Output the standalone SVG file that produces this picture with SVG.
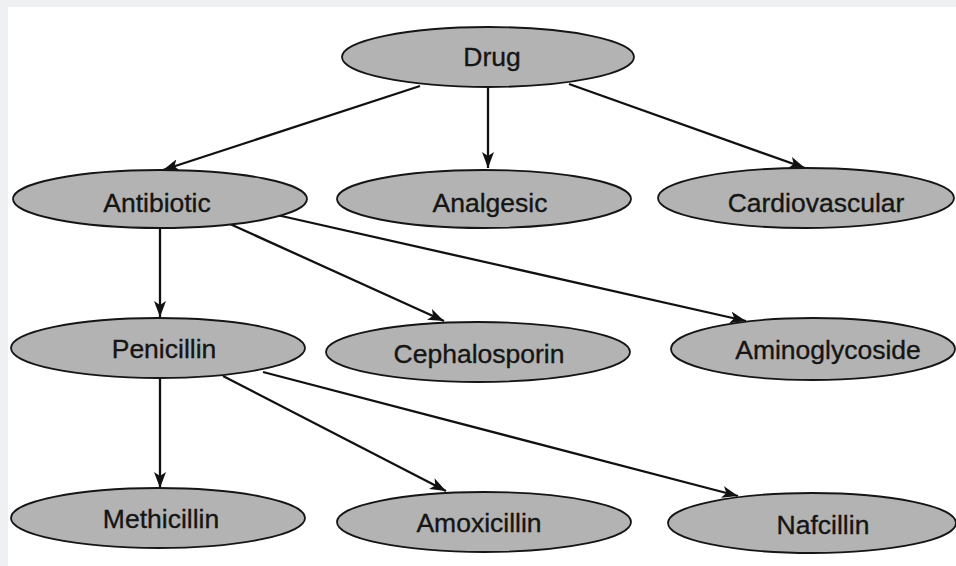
<svg xmlns="http://www.w3.org/2000/svg" width="956" height="566" viewBox="0 0 956 566">
<style>
.node ellipse{fill:#b3b3b3;stroke:#151515;stroke-width:1.8}
.node text{font-family:"Liberation Sans",Arial,sans-serif;font-size:26.5px;fill:#151515;stroke:#151515;stroke-width:0.35;text-anchor:middle}
.edges line{stroke:#111;stroke-width:2.3;marker-end:url(#arr)}
</style>
<defs>
<marker id="arr" markerUnits="userSpaceOnUse" markerWidth="16" markerHeight="12" viewBox="0 0 16 12" refX="16" refY="6" orient="auto">
<path d="M0,0 L16,6 L0,12 L4,6 Z" fill="#111"/>
</marker>
</defs>
<rect x="0" y="0" width="956" height="566" fill="#eff0f2"/>
<rect x="8" y="7" width="948" height="559" fill="#ffffff"/>
<g class="edges">
<line x1="420" y1="86" x2="163" y2="170"/>
<line x1="488" y1="88" x2="488" y2="168"/>
<line x1="569" y1="84" x2="805" y2="168"/>
<line x1="160" y1="228" x2="160" y2="317"/>
<line x1="230" y1="224" x2="444" y2="321"/>
<line x1="277" y1="215" x2="746" y2="321"/>
<line x1="160" y1="378" x2="160" y2="488"/>
<line x1="223" y1="376" x2="446" y2="491"/>
<line x1="263" y1="372" x2="738" y2="496"/>
</g>
<g id="drug" class="node"><ellipse cx="488" cy="57" rx="146" ry="30"/><text x="492" y="66">Drug</text></g>
<g id="antibiotic" class="node"><ellipse cx="160" cy="199" rx="147" ry="29"/><text x="157" y="212">Antibiotic</text></g>
<g id="analgesic" class="node"><ellipse cx="484" cy="199" rx="147" ry="29"/><text x="490" y="212">Analgesic</text></g>
<g id="cardiovascular" class="node"><ellipse cx="806" cy="198" rx="148" ry="30"/><text x="816" y="212">Cardiovascular</text></g>
<g id="penicillin" class="node"><ellipse cx="158" cy="348" rx="147" ry="30"/><text x="164" y="358">Penicillin</text></g>
<g id="cephalosporin" class="node"><ellipse cx="478" cy="352" rx="152" ry="30"/><text x="479" y="363">Cephalosporin</text></g>
<g id="aminoglycoside" class="node"><ellipse cx="813" cy="349" rx="142" ry="31"/><text x="828" y="359">Aminoglycoside</text></g>
<g id="methicillin" class="node"><ellipse cx="158" cy="518" rx="147" ry="30"/><text x="161" y="528">Methicillin</text></g>
<g id="amoxicillin" class="node"><ellipse cx="484" cy="522" rx="147" ry="30"/><text x="479" y="532">Amoxicillin</text></g>
<g id="nafcillin" class="node"><ellipse cx="812" cy="523" rx="144" ry="30"/><text x="823" y="534">Nafcillin</text></g>
</svg>
